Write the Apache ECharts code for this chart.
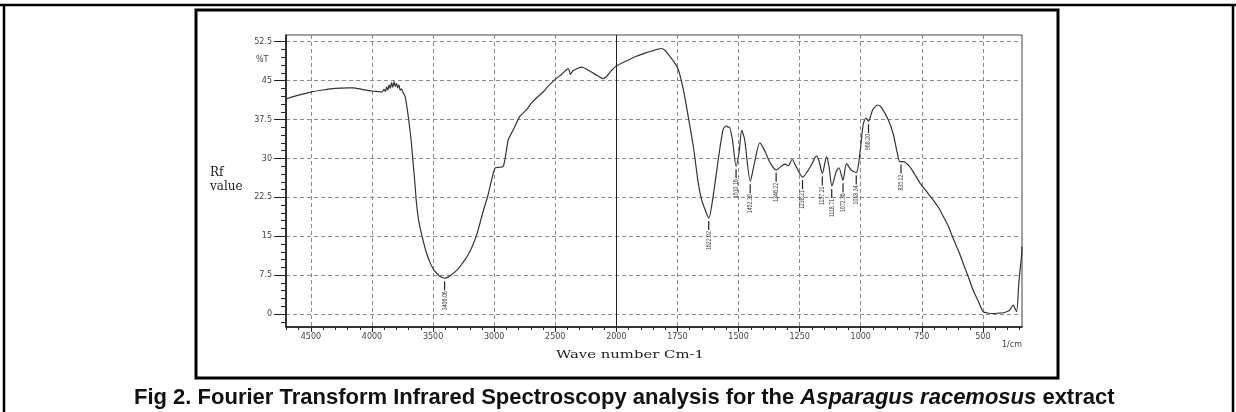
<!DOCTYPE html>
<html>
<head>
<meta charset="utf-8">
<script src="https://cdn.jsdelivr.net/npm/echarts@6/dist/echarts.min.js"></script>
<style>
  html, body { margin: 0; padding: 0; background: #fff; }
  #ftir { width: 1236px; height: 412px; }
</style>
</head>
<body>
<div id="ftir"></div>
<script>
// spectrum, wavenumber (1/cm) and %T
var waveNumbers = [4700, 4600, 4500, 4400, 4300, 4200, 4150, 4100, 4000, 3950, 3920,
  3900, 3890, 3880, 3870, 3860, 3850, 3840, 3830, 3820, 3810, 3800, 3790, 3780, 3770, 3760,
  3746, 3730, 3716, 3700, 3680, 3666, 3650, 3636, 3620, 3602, 3580, 3562, 3530, 3494, 3450,
  3406, 3360, 3303, 3260, 3221, 3180, 3139, 3100, 3050, 3007, 2990, 2950, 2925, 2900, 2885,
  2860, 2830, 2790, 2735, 2700, 2653, 2600, 2571, 2503, 2449, 2394, 2375, 2360, 2340, 2285,
  2250, 2200, 2150, 2110, 2080, 2050, 2000, 1959, 1918, 1877, 1850, 1836, 1815, 1800, 1788,
  1767, 1747, 1726, 1706, 1685, 1665, 1651, 1636, 1622, 1604, 1583, 1563, 1549, 1543, 1538,
  1525, 1510, 1498, 1487, 1475, 1452, 1435, 1413, 1395, 1370, 1346, 1310, 1296, 1281, 1262,
  1238, 1205, 1181, 1170, 1157, 1140, 1130, 1118, 1100, 1089, 1073, 1058, 1038, 1018, 1003,
  990, 979, 968, 951, 931, 915, 888, 868, 850, 840, 825, 801, 780, 758, 730, 704, 680, 662,
  640, 622, 600, 581, 560, 540, 520, 512, 499, 480, 458, 440, 417, 400, 390, 376, 368, 362,
  352, 342, 340];
var transmittance = [41.5, 42.2, 42.8, 43.2, 43.5, 43.6, 43.6, 43.4, 43.0, 42.9, 42.8,
  43.3, 42.9, 43.8, 43.2, 44.2, 43.5, 44.6, 43.7, 44.8, 43.9, 44.5, 43.6, 44.2, 43.2, 43.4,
  42.7, 42.0, 40.2, 37.5, 33.5, 29.8, 25.5, 21.4, 18.3, 16.2, 14.0, 12.4, 10.2, 8.5, 7.4,
  6.9, 7.4, 8.5, 9.8, 11.1, 13.0, 15.6, 19.0, 23.0, 27.2, 28.2, 28.3, 28.5, 31.5, 33.6,
  34.8, 36.2, 38.1, 39.4, 40.5, 41.7, 42.8, 43.6, 45.2, 46.2, 47.3, 46.2, 46.8, 47.1, 47.6,
  47.3, 46.6, 45.9, 45.4, 45.8, 46.7, 47.8, 48.8, 49.7, 50.4, 50.8, 51.0, 51.2, 50.8, 50.1,
  48.8, 47.2, 43.3, 38.1, 32.3, 25.3, 22.0, 20.0, 18.5, 22.7, 29.8, 35.6, 36.3, 36.0, 36.1,
  33.6, 28.5, 31.1, 35.4, 33.6, 25.6, 29.1, 33.0, 31.7, 29.1, 27.8, 28.9, 28.6, 29.8, 28.2,
  26.4, 28.5, 30.5, 29.4, 27.1, 30.3, 28.5, 24.7, 27.5, 28.2, 25.8, 29.0, 27.7, 27.3, 31.1,
  36.5, 37.8, 37.2, 39.4, 40.3, 39.8, 37.5, 34.9, 31.0, 29.4, 29.4, 28.5, 27.0, 25.3, 23.6,
  22.0, 20.4, 18.8, 16.8, 14.6, 12.2, 9.8, 7.2, 4.6, 2.6, 1.7, 0.45, 0.2, 0.1, 0.15, 0.25,
  0.5, 0.8, 1.7, 1.0, 0.45, 6.6, 11.1, 13.0];

// marked peaks
var peakWaves = [3406.06, 1622.02, 1510.16, 1452.30, 1346.22, 1238.21, 1157.21, 1118.71, 1072.36, 1018.34, 968.20, 835.12];
var peakTexts = ['3406.06', '1622.02', '1510.16', '1452.30', '1346.22', '1238.21', '1157.21', '1118.71', '1072.36', '1018.34', '968.20', '835.12'];
var peakValues = [6.9, 18.5, 28.5, 25.6, 27.8, 26.4, 27.1, 24.7, 25.8, 27.3, 37.2, 29.4];

var xTicks = [4500, 4000, 3500, 3000, 2500, 2000, 1750, 1500, 1250, 1000, 750, 500];
var yTicks = [0, 7.5, 15, 22.5, 30, 37.5, 45, 52.5];

// the instrument halves the scale above 2000 1/cm
function toAxis(w) { return w > 2000 ? 2000 + (w - 2000) / 2 : w; }
function fromAxis(t) { return t > 2000 ? Math.round(2000 + (t - 2000) * 2) : Math.round(t); }

var xMajor = xTicks.map(toAxis);
var xMinor = [];
for (var t = 350; t <= 3350; t += 50) xMinor.push(t);
var yMinor = [];
for (var v = -1.5; v <= 53; v += 1.5) yMinor.push(+v.toFixed(1));

var lineData = waveNumbers.map(function (w, i) { return [toAxis(w), transmittance[i]]; });
var peakData = peakWaves.map(function (w, i) { return [toAxis(w), peakValues[i]]; });

var xMin = 340, xMax = 3352, yMin = -2.5, yMax = 53.8;
var gridDash = { color: '#8a8a8a', type: [4, 3], width: 1 };
var tickFont = { color: '#444', fontSize: 8, fontFamily: 'DejaVu Sans' };

var chart = echarts.init(document.getElementById('ftir'));
chart.setOption({
  animation: false,
  backgroundColor: '#fff',
  title: {
    text: '{a|Fig 2. Fourier Transform Infrared Spectroscopy analysis for the }{b|Asparagus racemosus}{a| extract}',
    left: 134,
    top: 387,
    padding: 0,
    textStyle: {
      rich: {
        a: { fontSize: 22, fontWeight: 'bold', fontFamily: 'Liberation Sans', color: '#111' },
        b: { fontSize: 22, fontWeight: 'bold', fontStyle: 'italic', fontFamily: 'Liberation Sans', color: '#111' }
      }
    }
  },
  grid: { left: 286, right: 214, top: 35, bottom: 85, show: true, borderColor: '#444', borderWidth: 1 },
  xAxis: [
    {
      type: 'value', min: xMin, max: xMax, inverse: true, position: 'bottom',
      axisLine: { show: true, onZero: false, lineStyle: { color: '#111', width: 1.5 } },
      axisTick: { show: true, length: 5, customValues: xMajor, lineStyle: { color: '#222' } },
      axisLabel: Object.assign({ customValues: xMajor, margin: 6, formatter: function (val) { return fromAxis(val); } }, tickFont),
      splitLine: { show: true, lineStyle: gridDash }
    },
    {
      type: 'value', min: xMin, max: xMax, inverse: true, position: 'bottom',
      axisLine: { show: false, onZero: false },
      axisTick: { show: true, length: 3, customValues: xMinor, lineStyle: { color: '#222' } },
      axisLabel: { show: false },
      splitLine: { show: false }
    }
  ],
  yAxis: [
    {
      type: 'value', min: yMin, max: yMax, position: 'left',
      axisLine: { show: true, onZero: false, lineStyle: { color: '#111', width: 1.5 } },
      axisTick: { show: true, length: 12, customValues: yTicks, lineStyle: { color: '#222' } },
      axisLabel: Object.assign({ customValues: yTicks, margin: 14 }, tickFont),
      splitLine: { show: true, lineStyle: gridDash }
    },
    {
      type: 'value', min: yMin, max: yMax, position: 'left',
      axisLine: { show: false, onZero: false },
      axisTick: { show: true, length: 5, customValues: yMinor, lineStyle: { color: '#222' } },
      axisLabel: { show: false },
      splitLine: { show: false }
    }
  ],
  series: [
    {
      type: 'line',
      data: lineData,
      showSymbol: false,
      smooth: 0.25,
      lineStyle: { color: '#333', width: 1.2 },
      markLine: {
        silent: true,
        symbol: 'none',
        label: { show: false },
        lineStyle: { color: '#222', type: 'solid', width: 1 },
        data: [{ xAxis: toAxis(2000) }]
      }
    },
    {
      type: 'custom',
      data: peakData,
      renderItem: function (params, api) {
        var p = api.coord([api.value(0), api.value(1)]);
        return {
          type: 'group',
          children: [
            { type: 'line', shape: { x1: p[0], y1: p[1] + 3, x2: p[0], y2: p[1] + 12 }, style: { stroke: '#222', lineWidth: 1.2 } },
            {
              type: 'text', x: p[0], y: p[1] + 13, rotation: Math.PI / 2, scaleX: 0.75,
              style: { text: peakTexts[params.dataIndex], fontSize: 7, fontFamily: 'Liberation Sans', fill: '#444', align: 'right', verticalAlign: 'middle' }
            }
          ]
        };
      }
    }
  ],
  graphic: [
    { type: 'line', shape: { x1: 0, y1: 5, x2: 1236, y2: 5 }, style: { stroke: '#000', lineWidth: 2.5 } },
    { type: 'line', shape: { x1: 4, y1: 5, x2: 4, y2: 412 }, style: { stroke: '#000', lineWidth: 2.5 } },
    { type: 'line', shape: { x1: 1233, y1: 5, x2: 1233, y2: 412 }, style: { stroke: '#000', lineWidth: 2.5 } },
    { type: 'rect', shape: { x: 196, y: 10, width: 862, height: 368 }, style: { stroke: '#000', lineWidth: 3, fill: null } },
    { type: 'text', x: 256, y: 56, style: { text: '%T', fontSize: 8, fontFamily: 'DejaVu Sans', fill: '#444' } },
    { type: 'text', x: 210, y: 167, style: { text: 'Rf', fontSize: 12, fontFamily: 'DejaVu Serif', fill: '#222' } },
    { type: 'text', x: 210, y: 181, style: { text: 'value', fontSize: 12, fontFamily: 'DejaVu Serif', fill: '#222' } },
    { type: 'text', x: 556, y: 350, scaleX: 1.35, style: { text: 'Wave number Cm-1', fontSize: 11, fontFamily: 'DejaVu Serif', fill: '#222' } },
    { type: 'text', x: 1002, y: 341, style: { text: '1/cm', fontSize: 8, fontFamily: 'DejaVu Sans', fill: '#444' } }
  ]
});
</script>
</body>
</html>
